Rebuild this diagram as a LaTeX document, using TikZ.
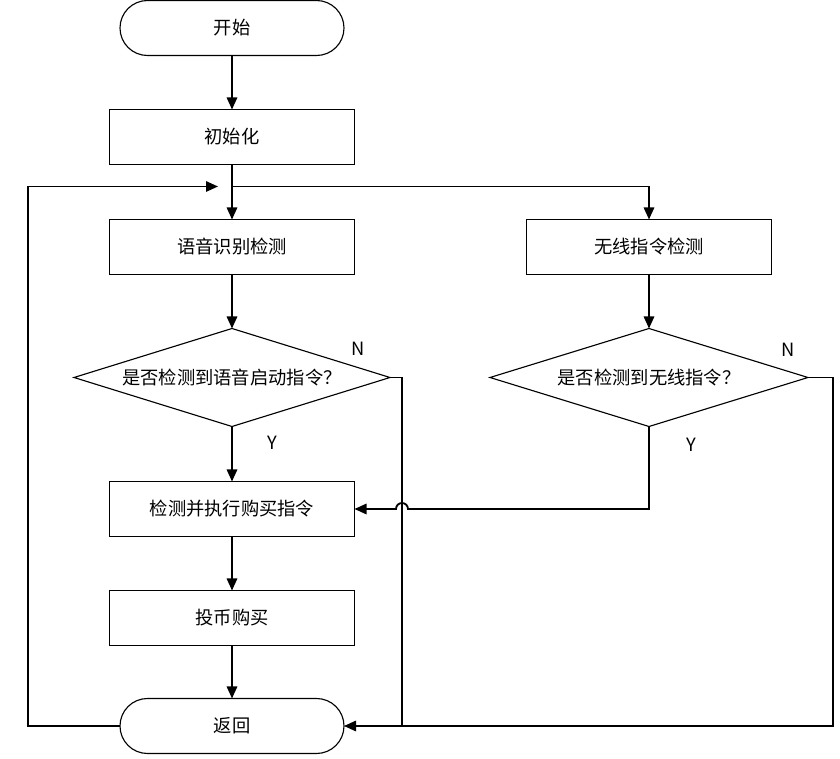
\documentclass[tikz,border=0pt]{standalone}
\usepackage{fontspec}
\setmainfont{Noto Sans CJK SC}
\usepackage{tikz}
\usetikzlibrary{arrows.meta,shapes.geometric,shapes.misc,positioning,calc}
\tikzstyle{flowline} = [line width=1.3pt,-{Triangle[length=3mm,width=2.6mm]}]
\tikzstyle{plainline} = [line width=1.3pt]
\tikzstyle{procbox} = [rectangle, draw, line width=0.8pt, minimum width=6.125cm, minimum height=1.375cm, text centered, inner sep=0pt, outer sep=0pt]
\tikzstyle{termbox} = [rounded rectangle, draw, line width=0.8pt, minimum width=5.6cm, minimum height=1.375cm, text centered, inner sep=0pt, outer sep=0pt]
\tikzstyle{decbox} = [diamond, aspect=3.2, draw, line width=0.8pt, minimum width=7.9cm, minimum height=2.45cm, text centered, inner sep=0pt, outer sep=0pt]

\begin{document}
\begin{tikzpicture}[font=\fontsize{13}{15}\selectfont]
\useasboundingbox (0,0) rectangle (21,-18.975);

% Left column
\node[termbox] (start) at (5.8,-0.7) {开始};
\node[procbox, below=1.35cm of start] (init) {初始化};
\node[procbox, below=1.375cm of init] (voice) {语音识别检测};
\node[decbox, below=1.35cm of voice] (askvoice) {是否检测到语音启动指令？};
\node[procbox, below=1.375cm of askvoice] (exec) {检测并执行购买指令};
\node[procbox, below=1.35cm of exec] (coin) {投币购买};
\node[termbox, below=1.325cm of coin] (ret) {返回};

% Right column
\node[procbox, right=4.3cm of voice] (wireless) {无线指令检测};
\node[decbox, below=1.35cm of wireless, minimum width=7.95cm] (askwireless) {是否检测到无线指令？};

% Labels
\node (nvoice) at ($(askvoice.east)+(-0.8,0.72)$) {N};
\node (yvoice) at ($(askvoice.south)+(1,-0.42)$) {Y};
\node (nwireless) at ($(askwireless.east)+(-0.5,0.68)$) {N};
\node (ywireless) at ($(askwireless.south)+(1.05,-0.45)$) {Y};

% Helper coordinates
\coordinate (split) at ($(init.south)!0.4!(voice.north)$);
\coordinate (leftbus) at (0.7,0);
\coordinate (busA) at (10.05,0);
\coordinate (busB) at (20.825,0);

% Main flow
\draw[flowline] (start) -- (init);
\draw[flowline] (init) -- (voice);
\draw[flowline] (split) -| (wireless);
\draw[flowline] (voice) -- (askvoice);
\draw[flowline] (askvoice) -- (exec);
\draw[flowline] (exec) -- (coin);
\draw[flowline] (coin) -- (ret);
\draw[flowline] (wireless) -- (askwireless);

% No branches to return
\draw[flowline] (askvoice.east) -| (busA |- ret.east) -- (ret.east);
\draw[plainline] (askwireless.east) -| (busB |- ret.east) -- (busA |- ret.east);

% Yes branch of wireless, hopping over the bus
\draw[flowline] (askwireless.south) |- ($(busA |- exec.east)+(0.15,0)$) arc[start angle=0, end angle=180, radius=0.15] -- (exec.east);

% Loop back
\draw[flowline, shorten >=0.35cm] (ret.west) -| (leftbus |- split) -- (split);
\end{tikzpicture}
\end{document}
